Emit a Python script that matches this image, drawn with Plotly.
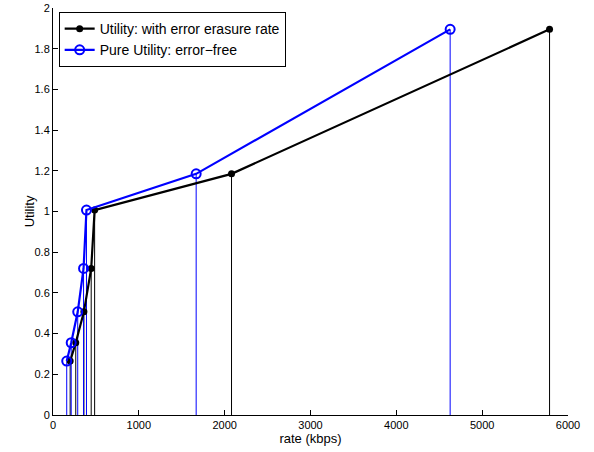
import plotly.graph_objects as go

# Rate (kbps) and utility for each operating point
rate_erasure = [200, 265, 360, 445, 485, 2080, 5785]
rate_pure = [160, 212, 288, 356, 390, 1668, 4627]
utility = [0.265, 0.355, 0.507, 0.72, 1.007, 1.185, 1.895]

black = "#000000"
blue = "#0000ff"


def stems(xs, ys):
    sx, sy = [], []
    for x, y in zip(xs, ys):
        sx += [x, x, None]
        sy += [0, y, None]
    return sx, sy


fig = go.Figure()

# Thin vertical drops from each point down to the rate axis
sx, sy = stems(rate_erasure, utility)
fig.add_trace(go.Scatter(x=sx, y=sy, mode="lines", line=dict(color=black, width=1),
                         showlegend=False, hoverinfo="skip"))
sx, sy = stems(rate_pure, utility)
fig.add_trace(go.Scatter(x=sx, y=sy, mode="lines", line=dict(color=blue, width=1),
                         showlegend=False, hoverinfo="skip"))

fig.add_trace(go.Scatter(
    x=rate_erasure, y=utility, mode="lines+markers",
    name="Utility: with error erasure rate",
    line=dict(color=black, width=2.2),
    marker=dict(symbol="circle", size=7, color=black),
))
fig.add_trace(go.Scatter(
    x=rate_pure, y=utility, mode="lines+markers",
    name="Pure Utility: error\u2212free",
    line=dict(color=blue, width=2.2),
    marker=dict(symbol="circle-open", size=9, color=blue, line=dict(width=2, color=blue)),
))

axis_font = dict(family="Liberation Sans, Arial, sans-serif", size=11, color="#000")

fig.update_layout(
    width=594, height=452,
    margin=dict(l=53, r=26, t=8, b=37, autoexpand=False),
    paper_bgcolor="white", plot_bgcolor="white",
    font=axis_font,
    showlegend=True,
    legend=dict(x=0.011, y=0.99, xanchor="left", yanchor="top",
                bgcolor="white", bordercolor="black", borderwidth=1,
                font=dict(size=14), tracegroupgap=0, itemwidth=30),
    xaxis=dict(
        range=[0, 6000], tickvals=[0, 1000, 2000, 3000, 4000, 5000, 6000],
        ticks="inside", ticklen=5, tickcolor="black", showgrid=False, zeroline=False,
        showline=True, linecolor="black", linewidth=1, automargin=False,
        title=dict(text="rate (kbps)", font=dict(size=13), standoff=3),
        tickfont=axis_font,
    ),
    yaxis=dict(
        range=[0, 2], tickvals=[0, 0.2, 0.4, 0.6, 0.8, 1, 1.2, 1.4, 1.6, 1.8, 2],
        ticktext=["0", "0.2", "0.4", "0.6", "0.8", "1", "1.2", "1.4", "1.6", "1.8", "2"],
        ticks="inside", ticklen=5, tickcolor="black", showgrid=False, zeroline=False,
        showline=True, linecolor="black", linewidth=1, automargin=False,
        tickfont=axis_font,
    ),
    annotations=[dict(
        text="Utility", textangle=-90, xref="paper", yref="paper",
        x=-0.045, y=0.5, xanchor="center", yanchor="middle", showarrow=False,
        font=dict(size=13, family="Liberation Sans, Arial, sans-serif", color="#000"),
    )],
)

fig.write_html("out.html")
